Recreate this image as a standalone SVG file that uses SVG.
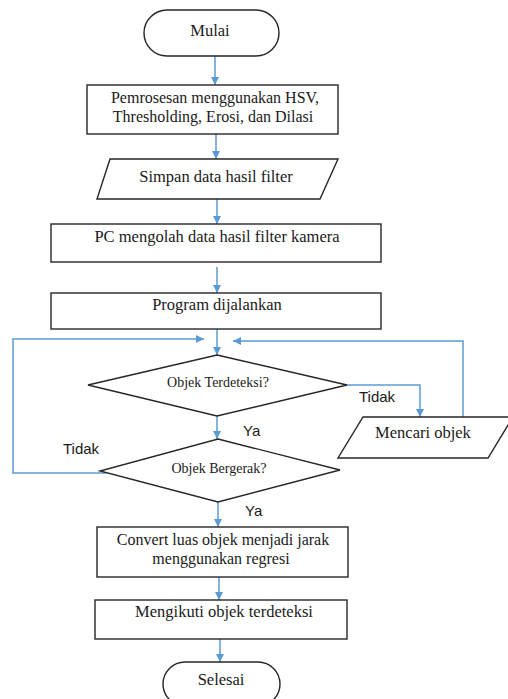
<svg xmlns="http://www.w3.org/2000/svg" width="508" height="699" viewBox="0 0 508 699">
<style>
.n{fill:#fff;stroke:#262626;stroke-width:1.4}
.t{font-family:"Liberation Serif","Times New Roman",serif;font-size:16.5px;fill:#1a1a1a;text-anchor:middle}
.m{font-size:16px}
.d{font-size:14px}
.c{fill:none;stroke:#5B9BD5;stroke-width:1.5}
.l{font-family:"Liberation Sans",Arial,sans-serif;font-size:15px;fill:#1a1a1a}
</style>
<defs>
<marker id="a" viewBox="0 0 10 10" refX="10" refY="5" markerWidth="8" markerHeight="8" markerUnits="userSpaceOnUse" orient="auto">
<path d="M0,0 L10,5 L0,10 Z" fill="#5B9BD5"/>
</marker>
</defs>
<rect width="508" height="699" fill="#fff"/>
<g id="connectors">
<path class="c" d="M215,56 V85" marker-end="url(#a)"/>
<path class="c" d="M216,134 V159" marker-end="url(#a)"/>
<path class="c" d="M217,199 V224" marker-end="url(#a)"/>
<path class="c" d="M217,267 V293" marker-end="url(#a)"/>
<path class="c" d="M217,329 V355" marker-end="url(#a)"/>
<path class="c" d="M106,473 H13 V339 H204" marker-end="url(#a)"/>
<path class="c" d="M463,417 V341 H233" marker-end="url(#a)"/>
<path class="c" d="M347,385 H420 V417" marker-end="url(#a)"/>
<path class="c" d="M217,416 V439" marker-end="url(#a)"/>
<path class="c" d="M218,502 V527" marker-end="url(#a)"/>
<path class="c" d="M219,577 V600" marker-end="url(#a)"/>
<path class="c" d="M220,635 V662" marker-end="url(#a)"/>
<text class="l" x="359" y="402">Tidak</text>
<text class="l" x="243" y="436">Ya</text>
<text class="l" x="63" y="454">Tidak</text>
<text class="l" x="245" y="516">Ya</text>
</g>
<g id="mulai">
<rect class="n" x="144" y="10" width="135" height="46" rx="23"/>
<text class="t" x="210" y="36">Mulai</text>
</g>
<g id="pemrosesan">
<rect class="n" x="87" y="85" width="251" height="49"/>
<text class="t m" x="215" y="103">Pemrosesan menggunakan HSV,</text>
<text class="t m" x="213" y="121.5">Thresholding, Erosi, dan Dilasi</text>
</g>
<g id="simpan">
<polygon class="n" points="110,159 338,159 320,199 97,199"/>
<text class="t" x="216" y="182">Simpan data hasil filter</text>
</g>
<g id="pc">
<rect class="n" x="51" y="224" width="330" height="38"/>
<text class="t" x="217" y="242">PC mengolah data hasil filter kamera</text>
</g>
<g id="program">
<rect class="n" x="51" y="293" width="330" height="36"/>
<text class="t" x="217" y="310">Program dijalankan</text>
</g>
<g id="terdeteksi">
<polygon class="n" points="217,355 347,385 217,416 88,385"/>
<text class="t d" x="218" y="387">Objek Terdeteksi?</text>
</g>
<g id="mencari">
<polygon class="n" points="363,417 513,417 488,458 338,458"/>
<text class="t" x="423" y="438">Mencari objek</text>
</g>
<g id="bergerak">
<polygon class="n" points="218,439 340,470 218,502 100,471"/>
<text class="t d" x="219" y="473">Objek Bergerak?</text>
</g>
<g id="convert">
<rect class="n" x="97" y="527" width="251" height="50"/>
<text class="t m" x="223" y="545">Convert luas objek menjadi jarak</text>
<text class="t m" x="221" y="563.5">menggunakan regresi</text>
</g>
<g id="mengikuti">
<rect class="n" x="95" y="600" width="252" height="39"/>
<text class="t" x="224" y="617">Mengikuti objek terdeteksi</text>
</g>
<g id="selesai">
<rect class="n" x="163" y="662" width="117" height="44" rx="22"/>
<text class="t" x="221" y="685">Selesai</text>
</g>
</svg>
